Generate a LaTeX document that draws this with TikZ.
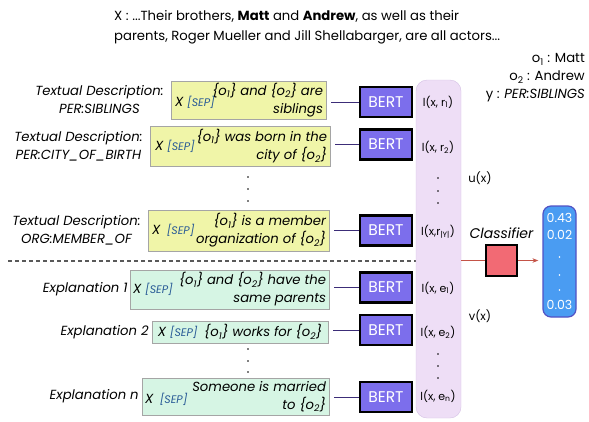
\documentclass[tikz,border=0pt]{standalone}
\usepackage{fontspec}
\setmainfont{Poppins}
\usetikzlibrary{positioning,arrows.meta}

\definecolor{descyellow}{RGB}{240,245,168}
\definecolor{explgreen}{RGB}{214,245,228}
\definecolor{boxgray}{RGB}{165,165,165}
\definecolor{bertpurple}{RGB}{124,110,236}
\definecolor{linkpurple}{RGB}{60,45,120}
\definecolor{collav}{RGB}{238,222,246}
\definecolor{collavdraw}{RGB}{212,192,228}
\definecolor{clsred}{RGB}{242,106,116}
\definecolor{arrowred}{RGB}{196,84,72}
\definecolor{outblue}{RGB}{74,156,242}
\definecolor{outborder}{RGB}{82,82,196}
\definecolor{sepblue}{RGB}{40,90,150}

\newcommand{\idx}[1]{\textsubscript{#1}}
\newcommand{\septok}{{\fontsize{11}{12}\selectfont\textcolor{sepblue}{[SEP]}}}

\begin{document}
\begin{tikzpicture}[x=1pt,y=-1pt,
  txt/.style={font=\fontsize{13.2}{18}\selectfont,inner sep=0pt},
  itxt/.style={font=\fontsize{13.2}{18}\selectfont\itshape,inner sep=0pt},
  desc/.style={draw=boxgray,fill=descyellow,inner sep=0pt},
  expl/.style={draw=boxgray,fill=explgreen,inner sep=0pt},
  bert/.style={draw=black,line width=2.2pt,fill=bertpurple,text=white,
    minimum width=52pt,minimum height=30pt,font=\fontsize{15.5}{18}\selectfont},
  link/.style={linkpurple,line width=1pt,shorten <=5pt},
  score/.style={text=white,font=\fontsize{12.5}{14}\selectfont,inner sep=0pt},
  lossl/.style={font=\fontsize{11}{13}\selectfont,inner sep=0pt}]

\useasboundingbox (0,0) rectangle (589,421);

% input sentence and its labels
\node[txt,anchor=west,align=left] (sent) at (114,27)
  {X : ...Their brothers, \textbf{Matt} and \textbf{Andrew}, as well as their\\[2pt]
   parents, Roger Mueller and Jill Shellabarger, are all actors...};
\node[txt,anchor=east,align=right] (objs) at (585,78)
  {o\idx{1} : Matt\\o\idx{2} : Andrew\\y : \textit{PER:SIBLINGS}};

% textual descriptions
\node[desc,minimum width=155pt,minimum height=38pt] (d1) at (248.5,100) {};
\node[desc,minimum width=180pt,minimum height=40pt] (d2) at (240,146) {};
\node[desc,minimum width=181pt,minimum height=41pt] (d3) at (238.5,230.5) {};

\node[itxt,anchor=west] (d1x) at ([xshift=4pt,yshift=-2pt]d1.west) {X \septok};
\node[itxt,anchor=east,align=right] (d1t) at ([xshift=-3pt]d1.east)
  {\{o\idx{1}\} and \{o\idx{2}\} are\\siblings};
\node[itxt,anchor=west] (d2x) at ([xshift=5pt]d2.west) {X \septok};
\node[itxt,anchor=east,align=right] (d2t) at ([xshift=-3pt]d2.east)
  {\{o\idx{1}\} was born in the\\city of \{o\idx{2}\}};
\node[itxt,anchor=west] (d3x) at ([xshift=4pt]d3.west) {X\enspace\septok};
\node[itxt,anchor=east,align=right] (d3t) at ([xshift=-3pt]d3.east)
  {\{o\idx{1}\} is a member\\organization of \{o\idx{2}\}};

\node[itxt,align=center,left=7pt of d1] (l1) {Textual Description:\\PER:SIBLINGS};
\node[itxt,align=center,left=7pt of d2] (l2) {Textual Description:\\PER:CITY\_OF\_BIRTH};
\node[itxt,align=center,left=7pt of d3] (l3) {Textual Description:\\ORG:MEMBER\_OF};

\foreach \y in {177,189,201}
  \fill (248,\y) circle (0.8pt);

\draw[dashed,dash pattern=on 4pt off 3pt,black!65,line width=1.2pt] (8,261) -- (416,261);

% explanations
\node[expl,minimum width=199pt,minimum height=39pt] (e1) at (229.5,289.5) {};
\node[expl,minimum width=176pt,minimum height=22pt] (e2) at (240,332) {};
\node[expl,minimum width=187pt,minimum height=37pt] (e3) at (235.5,396.5) {};

\node[itxt,anchor=west] (e1x) at ([xshift=3pt]e1.west) {X \septok};
\node[itxt,anchor=east,align=right] (e1t) at ([xshift=-3pt]e1.east)
  {\{o\idx{1}\} and \{o\idx{2}\} have the\\same parents};
\node[itxt,anchor=center] (e2t) at (e2) {X \septok\enspace \{o\idx{1}\} works for \{o\idx{2}\}};
\node[itxt,anchor=west] (e3x) at ([xshift=3pt,yshift=-3pt]e3.west) {X\enspace\septok};
\node[itxt,anchor=east,align=right] (e3t) at ([xshift=-3pt]e3.east)
  {Someone is married\\to \{o\idx{2}\}};

\node[itxt,left=2pt of e1] (m1) {Explanation 1};
\node[itxt,left=3pt of e2] (m2) {Explanation 2};
\node[itxt,left=3pt of e3] (m3) {Explanation \textit{n}};

\foreach \y in {349,361,372}
  \fill (248,\y) circle (0.8pt);

% encoders
\node[bert] (b1) at (386,102) {BERT};
\node[bert] (b2) at (386,144.5) {BERT};
\node[bert] (b3) at (386,230.5) {BERT};
\node[bert] (b4) at (386,287.5) {BERT};
\node[bert] (b5) at (386,330) {BERT};
\node[bert] (b6) at (386,397) {BERT};

\draw[link] (b1.west -| d1.east) -- (b1.west);
\draw[link] (b2.west -| d2.east) -- (b2.west);
\draw[link] (b3.west -| d3.east) -- (b3.west);
\draw[link] (b4.west -| e1.east) -- (b4.west);
\draw[link] (b5.west -| e2.east) -- (b5.west);
\draw[link] (b6.west -| e3.east) -- (b6.west);

% feature column
\node[draw=collavdraw,fill=collav,rounded corners=11pt,
  minimum width=45pt,minimum height=338pt] (col) at (438.5,249) {};
\node[lossl] (f1) at (438,102) {l(x, r\idx{1})};
\node[lossl] (f2) at (438,147) {l(x, r\idx{2})};
\node[lossl] (f3) at (438,232) {l(x,r\idx{|Y|})};
\node[lossl] (f4) at (438,288) {l(x, e\idx{1})};
\node[lossl] (f5) at (438,332) {l(x, e\idx{2})};
\node[lossl] (f6) at (438,396) {l(x, e\idx{n})};
\foreach \y in {178,191,203,354,366,378}
  \fill (438,\y) circle (0.8pt);

\node[lossl,font=\fontsize{11.5}{13}\selectfont] (ux) at (480,178) {u(x)};
\node[lossl,font=\fontsize{11.5}{13}\selectfont] (vx) at (480,316) {v(x)};

% classifier and output
\node[draw=black,line width=2.2pt,fill=clsred,minimum size=31pt] (cls) at (501.5,260.5) {};
\node[itxt,font=\fontsize{14}{16}\selectfont\itshape,above=5pt of cls] (clsl) {Classifier};

\node[draw=outborder,line width=1.2pt,fill=outblue,rounded corners=8pt,
  minimum width=33pt,minimum height=111pt] (out) at (559.5,261.5) {};
\node[score] (s1) at (559.5,218) {0.43};
\node[score] (s2) at (559.5,235) {0.02};
\node[score] (s3) at (559.5,305) {0.03};
\foreach \y in {257,275,290}
  \fill[white] (559.5,\y) circle (0.8pt);

\draw[arrowred,line width=1pt] (cls.west -| col.east) -- (cls.west);
\draw[arrowred,line width=1pt,-{Stealth[length=6pt]},shorten >=4pt] (cls.east) -- (out.west |- cls.east);

\end{tikzpicture}
\end{document}
